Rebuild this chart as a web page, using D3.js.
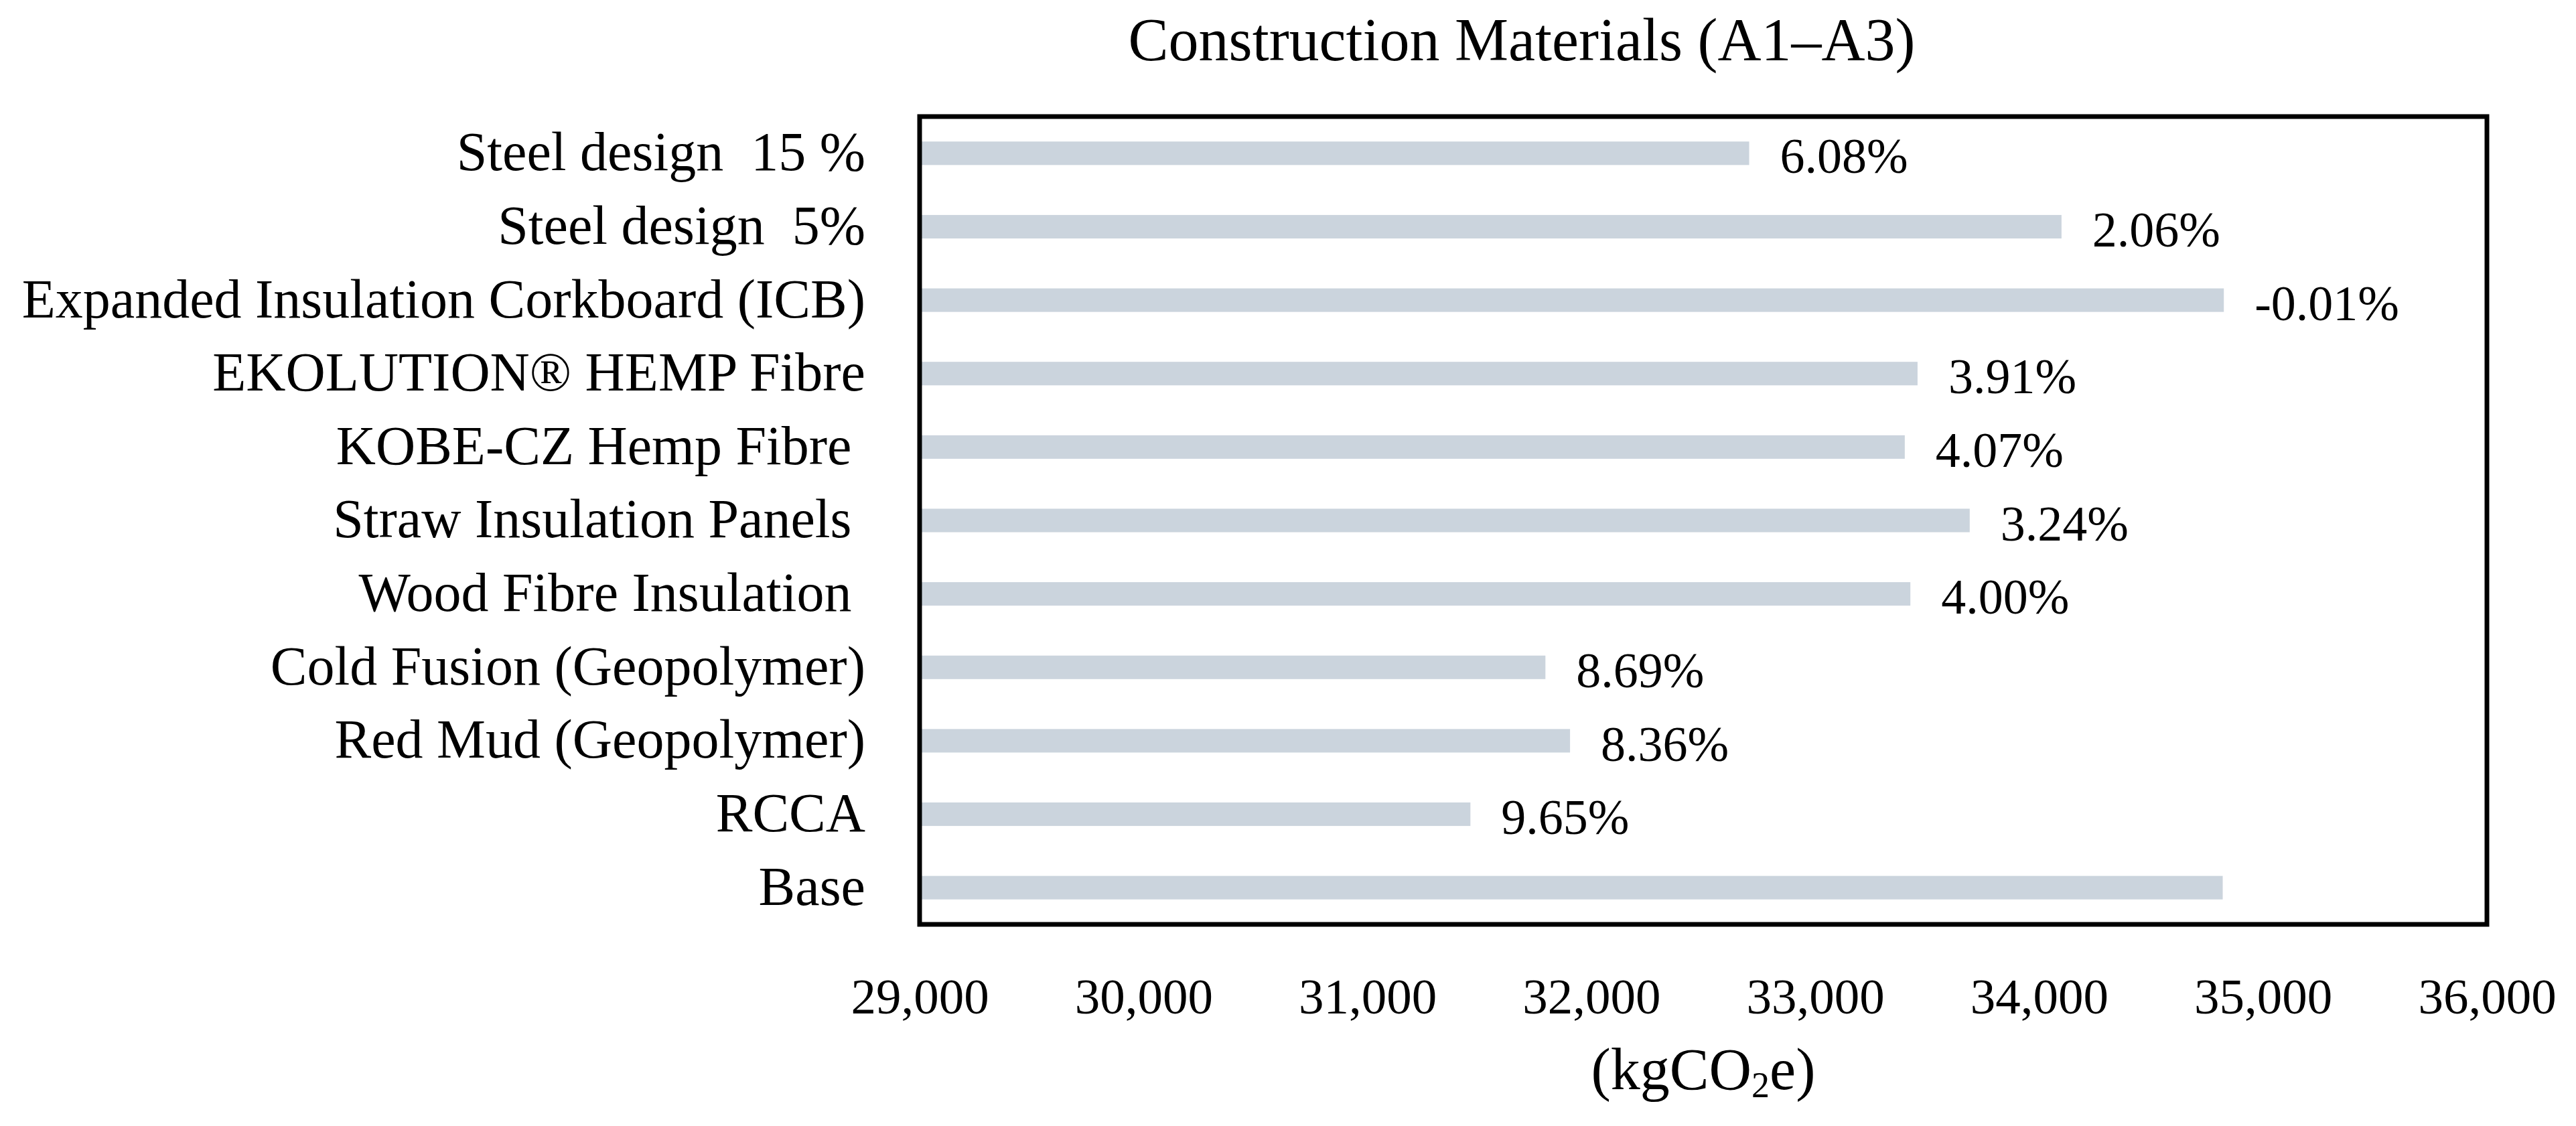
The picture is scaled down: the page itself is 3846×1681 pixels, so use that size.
<!DOCTYPE html>
<html>
<head>
<meta charset="utf-8">
<script src="https://cdn.jsdelivr.net/npm/d3@7"></script>
<style>
  body { margin: 0; background: #fff; }
  svg text { font-family: "Liberation Serif", serif; fill: #000; white-space: pre; }
</style>
</head>
<body>
<div id="chart"></div>
<script>
// categories, top to bottom as in the figure
const categories = [
    "Steel design  15 %",
    "Steel design  5%",
    "Expanded Insulation Corkboard (ICB)",
    "EKOLUTION\u00AE HEMP Fibre",
    "KOBE-CZ Hemp Fibre ",
    "Straw Insulation Panels ",
    "Wood Fibre Insulation ",
    "Cold Fusion (Geopolymer)",
    "Red Mud (Geopolymer)",
    "RCCA",
    "Base"
];

// kgCO2e
const emissions = [32705, 34100, 34825, 33457, 33400, 33690, 33425, 31795, 31905, 31460, 34820];

// reduction against Base, as printed
const reductions = ["6.08%", "2.06%", "-0.01%", "3.91%", "4.07%", "3.24%", "4.00%", "8.69%", "8.36%", "9.65%", ""];

const xTicks = [29000, 30000, 31000, 32000, 33000, 34000, 35000, 36000];

const width = 3846;
const height = 1681;
const plot = { left: 1373, right: 3713, top: 174, bottom: 1380 };

const data = categories.map((c, i) => ({ name: c, value: emissions[i], label: reductions[i] }));

const svg = d3.select("#chart")
    .append("svg")
    .attr("width", width)
    .attr("height", height);

svg.append("rect")
    .attr("width", width)
    .attr("height", height)
    .attr("fill", "#fff");

const x = d3.scaleLinear()
    .domain([29000, 36000])
    .range([plot.left, plot.right]);

const y = d3.scaleBand()
    .domain(categories)
    .range([plot.top, plot.bottom])
    .paddingInner(0.68)
    .paddingOuter(0.34);

// bars
svg.append("g")
    .selectAll("rect")
    .data(data)
    .enter()
    .append("rect")
    .attr("x", x(29000))
    .attr("y", d => y(d.name))
    .attr("width", d => x(d.value) - x(29000))
    .attr("height", y.bandwidth())
    .attr("fill", "#cbd4dd");

// value labels
svg.append("g")
    .selectAll("text")
    .data(data.filter(d => d.label))
    .enter()
    .append("text")
    .attr("x", d => x(d.value) + 46)
    .attr("y", d => y(d.name) + y.bandwidth() / 2)
    .attr("dy", "0.4em")
    .attr("font-size", "74px")
    .text(d => d.label);

// plot frame
svg.append("rect")
    .attr("x", plot.left)
    .attr("y", plot.top)
    .attr("width", plot.right - plot.left)
    .attr("height", plot.bottom - plot.top)
    .attr("fill", "none")
    .attr("stroke", "#000")
    .attr("stroke-width", 7);

// category axis
const yAxis = svg.append("g")
    .attr("transform", `translate(${plot.left},0)`)
    .call(d3.axisLeft(y).tickSize(0).tickPadding(81));
yAxis.select(".domain").remove();
yAxis.selectAll("text")
    .attr("font-size", "82px")
    .attr("font-family", null)
    .attr("dy", "0.31em");

// value axis
const xAxis = svg.append("g")
    .attr("transform", `translate(0,${plot.bottom})`)
    .call(d3.axisBottom(x).tickValues(xTicks).tickFormat(d3.format(",")).tickSize(0).tickPadding(80));
xAxis.select(".domain").remove();
xAxis.selectAll("text")
    .attr("font-size", "75px")
    .attr("font-family", null);

// axis title
const xTitle = svg.append("text")
    .attr("x", (plot.left + plot.right) / 2)
    .attr("y", 1626)
    .attr("text-anchor", "middle")
    .attr("font-size", "88px");
xTitle.append("tspan").text("(kgCO");
xTitle.append("tspan").attr("font-size", "54px").attr("dy", "12").text("2");
xTitle.append("tspan").attr("dy", "-12").text("e)");

// chart title
svg.append("text")
    .attr("x", 2272)
    .attr("y", 90)
    .attr("text-anchor", "middle")
    .attr("font-size", "90px")
    .text("Construction Materials (A1\u2013A3)");
</script>
</body>
</html>
